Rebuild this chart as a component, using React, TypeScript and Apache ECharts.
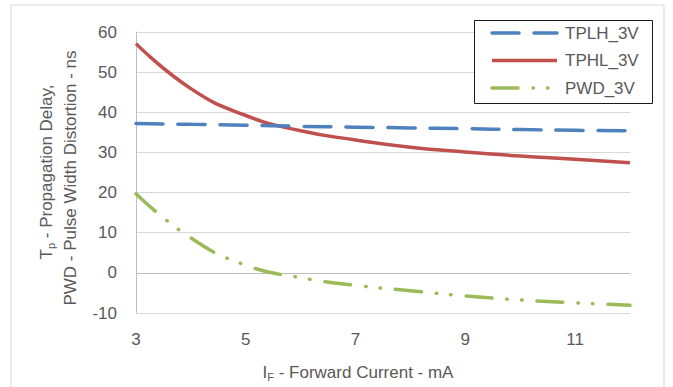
import React, { useEffect, useRef } from "react";
import * as echarts from "echarts";

const xValues = [3, 4, 5, 6, 7, 8, 9, 10, 11, 12];
const tplh = [37.2, 37.0, 36.8, 36.5, 36.3, 36.1, 35.9, 35.7, 35.5, 35.4];
const tphl = [57.1, 45.9, 39.2, 35.4, 33.1, 31.3, 30.1, 29.1, 28.3, 27.4];
const pwd = [19.7, 8.7, 1.9, -1.2, -3.1, -4.45, -5.75, -6.75, -7.45, -8.1];
const seriesNames = ["TPLH_3V", "TPHL_3V", "PWD_3V"];
const seriesColors = ["#4f81bd", "#c0504d", "#9bbb59"];
const yTicks = { min: -10, max: 60, step: 10 };
const xTicks = { min: 3, max: 12 };

const FONT = "Liberation Sans";
const FS = 17;
const TEXT = "#595959";
const DASHES: (number[] | null)[] = [[27, 15], null, [26, 15, 0.5, 14, 0.5, 15]];

export default function App() {
  const ref = useRef<HTMLDivElement>(null);
  useEffect(() => {
    if (!ref.current) return;
    const chart = echarts.init(ref.current, null, { renderer: "svg" });
    const pair = (ys: number[]) => xValues.map((x, i) => [x, ys[i]]);
    const allData = [tplh, tphl, pwd];

    const legendItems: any[] = [];
    seriesNames.forEach((name, i) => {
      const y = 33 + i * 27.5;
      const dash = DASHES[i];
      legendItems.push({
        type: "line",
        shape: { x1: 492, y1: y, x2: 557, y2: y },
        style: {
          stroke: seriesColors[i],
          lineWidth: 3.5,
          lineDash: dash || undefined,
          lineCap: dash ? "round" : "butt",
        },
        z: 20,
      });
      legendItems.push({
        type: "text",
        x: 565,
        y: y,
        style: {
          text: name,
          fill: TEXT,
          fontSize: FS,
          fontFamily: FONT,
          align: "left",
          verticalAlign: "middle",
        },
        z: 20,
      });
    });

    chart.setOption({
      animation: false,
      backgroundColor: "#ffffff",
      textStyle: { fontFamily: FONT },
      grid: { left: 136, right: 43, top: 32, bottom: 74 },
      xAxis: {
        type: "value",
        min: xTicks.min,
        max: xTicks.max,
        interval: 1,
        axisLine: { show: true, lineStyle: { color: "#bfbfbf", width: 1 } },
        axisTick: { show: false },
        splitLine: { show: false },
        axisLabel: {
          color: TEXT,
          fontSize: FS,
          fontFamily: FONT,
          margin: 18,
          formatter: (v: number) => (Math.round(v) % 2 === 1 ? String(v) : ""),
        },
      },
      yAxis: {
        type: "value",
        min: yTicks.min,
        max: yTicks.max,
        interval: yTicks.step,
        axisLine: { show: true, lineStyle: { color: "#bfbfbf", width: 1 } },
        axisTick: { show: false },
        splitLine: { show: true, lineStyle: { color: "#d9d9d9", width: 1 } },
        axisLabel: { color: TEXT, fontSize: FS, fontFamily: FONT, margin: 19 },
      },
      legend: { show: false },
      graphic: [
        {
          type: "rect",
          shape: { x: 11, y: 5, width: 653, height: 400 },
          style: { fill: "none", stroke: "#d9d9d9", lineWidth: 1 },
          silent: true,
          z: -10,
        },
        {
          type: "rect",
          shape: { x: 474.5, y: 20.5, width: 178, height: 83 },
          style: { fill: "#ffffff", stroke: "#1a1a1a", lineWidth: 1 },
          z: 19,
        },
        ...legendItems,
        {
          type: "text",
          x: 46,
          y: 172,
          rotation: Math.PI / 2,
          style: {
            text: "T{sub|p} - Propagation Delay,",
            fill: TEXT,
            fontSize: FS,
            fontFamily: FONT,
            align: "center",
            verticalAlign: "middle",
            lineHeight: 20,
            rich: {
              sub: { fontSize: 11, fontFamily: FONT, fill: TEXT, verticalAlign: "bottom", lineHeight: 20 },
            },
          },
        },
        {
          type: "text",
          x: 70,
          y: 178,
          rotation: Math.PI / 2,
          style: {
            text: "PWD - Pulse Width Distortion - ns",
            fill: TEXT,
            fontSize: FS,
            fontFamily: FONT,
            align: "center",
            verticalAlign: "middle",
          },
        },
        {
          type: "text",
          x: 358,
          y: 372,
          style: {
            text: "I{sub|F} - Forward Current - mA",
            fill: TEXT,
            fontSize: FS,
            fontFamily: FONT,
            align: "center",
            verticalAlign: "middle",
            lineHeight: 20,
            rich: {
              sub: { fontSize: 11, fontFamily: FONT, fill: TEXT, verticalAlign: "bottom", lineHeight: 20 },
            },
          },
        },
      ],
      series: seriesNames.map((name, i) => ({
        name,
        type: "line",
        data: pair(allData[i]),
        smooth: 0.5,
        symbol: "none",
        showSymbol: false,
        color: seriesColors[i],
        lineStyle: DASHES[i]
          ? { color: seriesColors[i], width: 3.5, type: DASHES[i], cap: "round" }
          : { color: seriesColors[i], width: 3.5 },
        z: [3, 2, 4][i],
      })),
    });
    return () => chart.dispose();
  }, []);
  return (
    <div
      ref={ref}
      style={{ position: "fixed", left: 0, top: 0, width: 673, height: 387 }}
    />
  );
}
